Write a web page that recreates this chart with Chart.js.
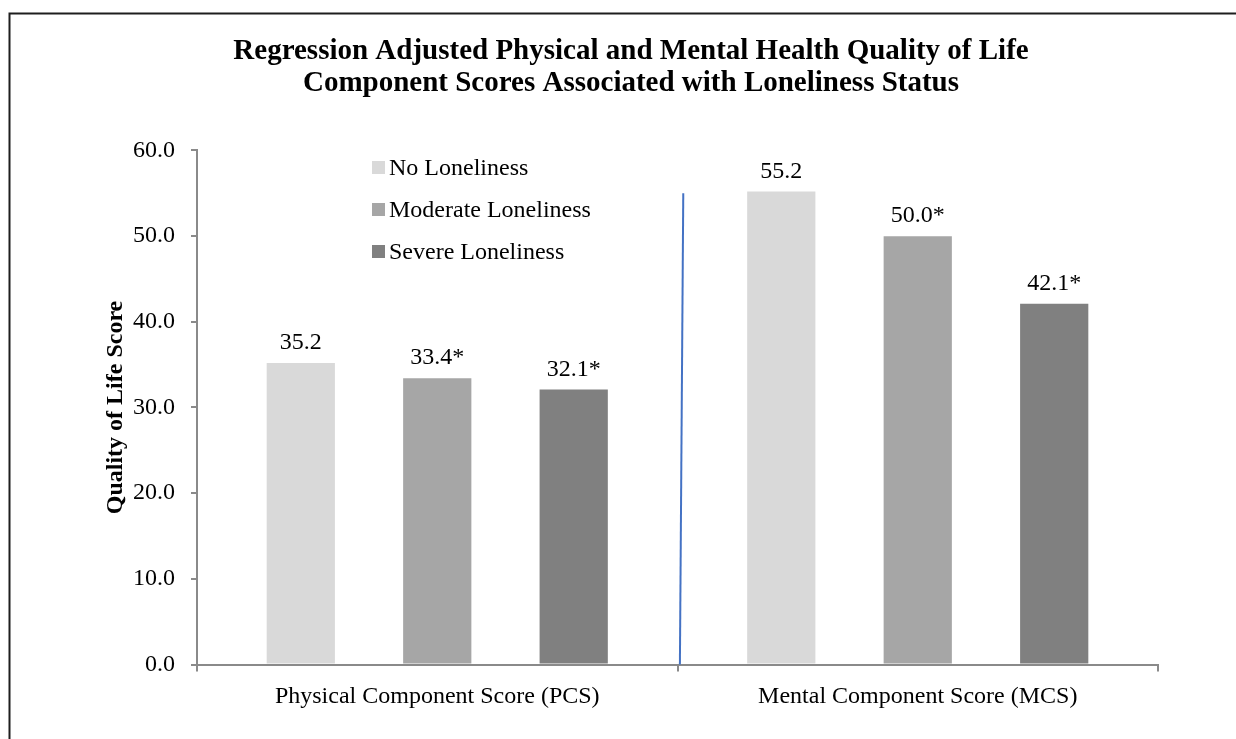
<!DOCTYPE html>
<html>
<head>
<meta charset="utf-8">
<script src="https://cdn.jsdelivr.net/npm/chart.js@4.4.1/dist/chart.umd.min.js"></script>
<style>
  html, body { margin: 0; padding: 0; background: #ffffff; }
  #wrap { width: 1236px; height: 739px; position: relative; }
</style>
</head>
<body>
<div id="wrap"><canvas id="c" width="1236" height="739"></canvas></div>
<script>
const categories = ['Physical Component Score (PCS)', 'Mental Component Score (MCS)'];
const seriesNames = ['No Loneliness', 'Moderate Loneliness', 'Severe Loneliness'];
const noLoneliness = [35.2, 55.2];
const moderateLoneliness = [33.4, 50.0];
const severeLoneliness = [32.1, 42.1];
const noLabels = ['35.2', '55.2'];
const moderateLabels = ['33.4*', '50.0*'];
const severeLabels = ['32.1*', '42.1*'];
const yTicks = [0, 10, 20, 30, 40, 50, 60];
const titleLines = ['Regression Adjusted Physical and Mental Health Quality of Life',
                    'Component Scores Associated with Loneliness Status'];
const yTitle = 'Quality of Life Score';
// divider line in data units: x = category index position, y = value
const dividerLine = [{ x: 0.512, y: 55 }, { x: 0.505, y: 0 }];

const colors = ['#d9d9d9', '#a6a6a6', '#808080'];
const serif = "'Liberation Serif', 'Times New Roman', serif";

const pageFrame = {
  id: 'pageFrame',
  beforeDraw(chart) {
    const ctx = chart.ctx;
    ctx.save();
    ctx.fillStyle = '#ffffff';
    ctx.fillRect(0, 0, chart.width, chart.height);
    ctx.strokeStyle = '#1e1e1e';
    ctx.lineWidth = 2;
    ctx.beginPath();
    ctx.moveTo(9.5, chart.height);
    ctx.lineTo(9.5, 13.5);
    ctx.lineTo(chart.width, 13.5);
    ctx.stroke();
    ctx.restore();
  }
};

const extras = {
  id: 'extras',
  afterDatasetsDraw(chart) {
    const ctx = chart.ctx;
    const xs = chart.scales.x, ys = chart.scales.y;
    ctx.save();
    // divider line
    ctx.strokeStyle = '#4472c4';
    ctx.lineWidth = 2;
    ctx.beginPath();
    ctx.moveTo(xs.getPixelForValue(dividerLine[0].x), ys.getPixelForValue(dividerLine[0].y));
    ctx.lineTo(xs.getPixelForValue(dividerLine[1].x), ys.getPixelForValue(dividerLine[1].y));
    ctx.stroke();
    // value labels
    ctx.fillStyle = '#000000';
    ctx.font = '24px ' + serif;
    ctx.textAlign = 'center';
    ctx.textBaseline = 'alphabetic';
    chart.data.datasets.forEach((ds, di) => {
      const meta = chart.getDatasetMeta(di);
      meta.data.forEach((bar, i) => {
        ctx.fillText(ds.valueLabels[i], bar.x, bar.y - 14);
      });
    });
    // legend
    const ca = chart.chartArea;
    ctx.textAlign = 'left';
    ctx.textBaseline = 'middle';
    chart.data.datasets.forEach((ds, di) => {
      const cy = ca.top + 17 + di * 42;
      ctx.fillStyle = ds.backgroundColor;
      ctx.fillRect(ca.left + 175, cy - 6.5, 13, 13);
      ctx.fillStyle = '#000000';
      ctx.fillText(ds.label, ca.left + 192, cy + 1);
    });
    ctx.restore();
  }
};

new Chart(document.getElementById('c'), {
  type: 'bar',
  data: {
    labels: categories,
    datasets: [
      { label: seriesNames[0], data: noLoneliness, valueLabels: noLabels, backgroundColor: colors[0] },
      { label: seriesNames[1], data: moderateLoneliness, valueLabels: moderateLabels, backgroundColor: colors[1] },
      { label: seriesNames[2], data: severeLoneliness, valueLabels: severeLabels, backgroundColor: colors[2] }
    ]
  },
  options: {
    responsive: false,
    animation: false,
    events: [],
    datasets: { bar: { categoryPercentage: 0.852, barPercentage: 0.5 } },
    layout: { padding: { left: 104, right: 78, top: 0, bottom: 0 } },
    plugins: {
      legend: { display: false },
      tooltip: { enabled: false },
      title: {
        display: true,
        text: titleLines,
        color: '#000000',
        font: { family: serif, size: 29, weight: 'bold', lineHeight: 1.1034 },
        padding: { top: 35.2, bottom: 51.3 }
      }
    },
    scales: {
      x: {
        afterFit(scale) { scale.height = 74.5; },
        border: { display: true, color: '#8a8a8a', width: 2 },
        grid: { display: true, drawOnChartArea: false, drawTicks: true, tickLength: 7, color: '#8a8a8a', lineWidth: 2 },
        ticks: { color: '#000000', font: { family: serif, size: 24 }, padding: 11, maxRotation: 0 }
      },
      y: {
        min: 0, max: 60,
        afterFit(scale) { scale.width = 93; },
        afterBuildTicks(scale) { scale.ticks = yTicks.map(v => ({ value: v })); },
        border: { display: true, color: '#8a8a8a', width: 2 },
        grid: { display: true, drawOnChartArea: false, drawTicks: true, tickLength: 6, color: '#8a8a8a', lineWidth: 2 },
        ticks: { color: '#000000', font: { family: serif, size: 24 }, padding: 16,
                 callback: v => Number(v).toFixed(1) },
        title: { display: true, text: yTitle, color: '#000000',
                 font: { family: serif, size: 24, weight: 'bold', lineHeight: 1 }, padding: { top: 0, bottom: 0 } }
      }
    }
  },
  plugins: [pageFrame, extras]
});
</script>
</body>
</html>
